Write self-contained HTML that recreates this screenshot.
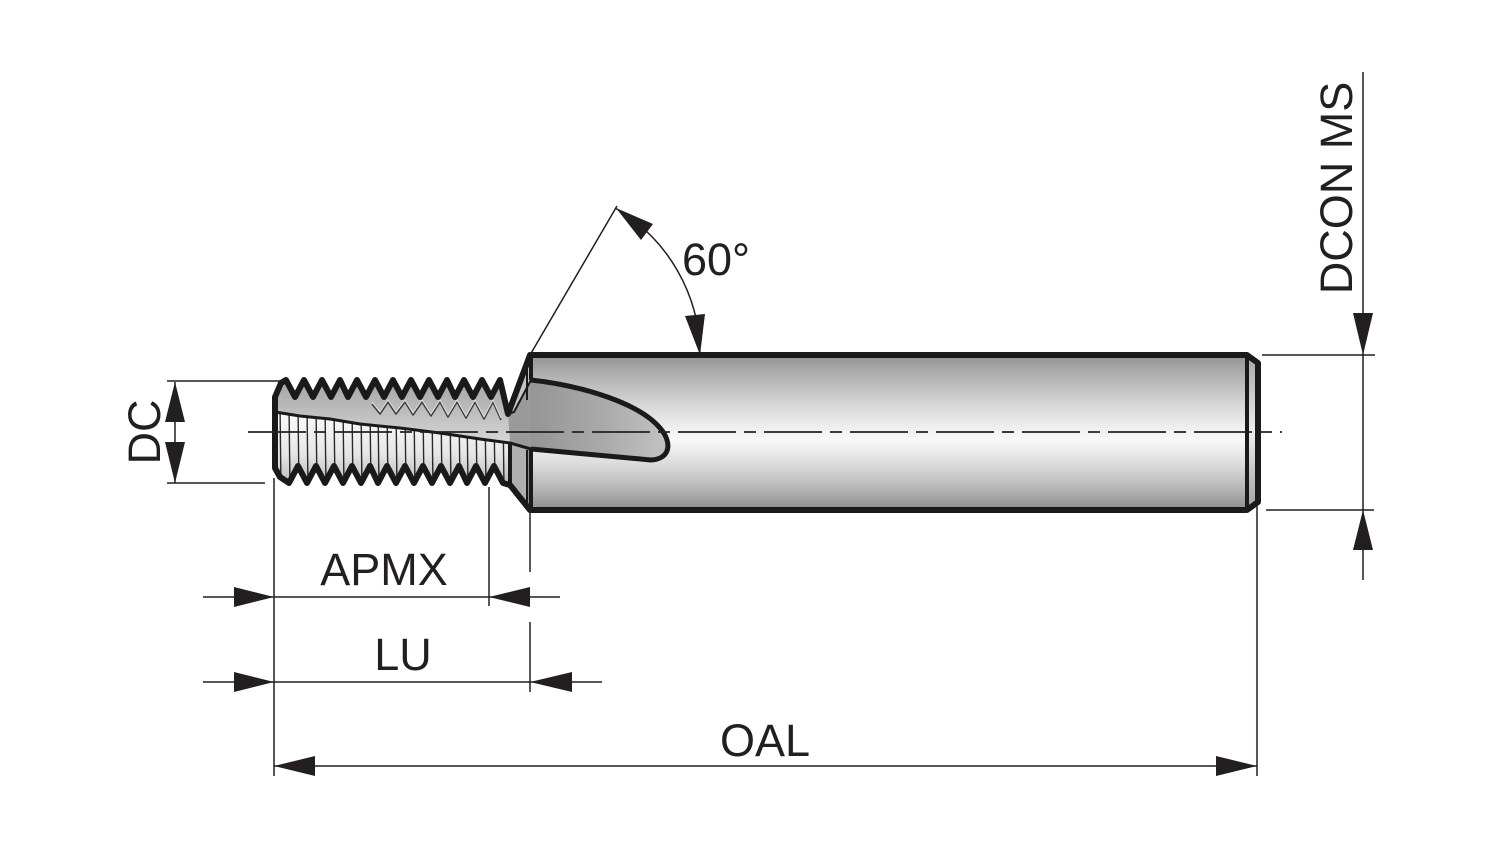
<!DOCTYPE html>
<html>
<head>
<meta charset="utf-8">
<style>
  html,body{margin:0;padding:0;background:#fff;}
  svg{display:block;}
  text{font-family:"Liberation Sans",Arial,sans-serif;fill:#231f20;}
</style>
</head>
<body>
<svg width="1500" height="849" viewBox="0 0 1500 849" xmlns="http://www.w3.org/2000/svg">
  <defs>
    <linearGradient id="shank" gradientUnits="userSpaceOnUse" x1="0" y1="355" x2="0" y2="510">
      <stop offset="0" stop-color="#929292"/>
      <stop offset="0.15" stop-color="#b4b4b4"/>
      <stop offset="0.32" stop-color="#d6d6d6"/>
      <stop offset="0.47" stop-color="#efefef"/>
      <stop offset="0.55" stop-color="#f8f8f8"/>
      <stop offset="0.70" stop-color="#dcdcdc"/>
      <stop offset="0.86" stop-color="#b6b6b6"/>
      <stop offset="1" stop-color="#8c8c8c"/>
    </linearGradient>
    <linearGradient id="band" gradientUnits="userSpaceOnUse" x1="0" y1="380" x2="0" y2="440">
      <stop offset="0" stop-color="#a4a4a4"/>
      <stop offset="1" stop-color="#d4d4d4"/>
    </linearGradient>
    <linearGradient id="nose" gradientUnits="userSpaceOnUse" x1="505" y1="0" x2="670" y2="0">
      <stop offset="0" stop-color="#8e8e8e"/>
      <stop offset="0.6" stop-color="#aaaaaa"/>
      <stop offset="1" stop-color="#c4c4c4"/>
    </linearGradient>
    <linearGradient id="stripebg" gradientUnits="userSpaceOnUse" x1="0" y1="412" x2="0" y2="482">
      <stop offset="0" stop-color="#fbfbfb"/>
      <stop offset="0.6" stop-color="#e6e6e6"/>
      <stop offset="1" stop-color="#bdbdbd"/>
    </linearGradient>
    <linearGradient id="cham" gradientUnits="userSpaceOnUse" x1="0" y1="355" x2="0" y2="510">
      <stop offset="0" stop-color="#a8a8a8"/>
      <stop offset="0.5" stop-color="#eeeeee"/>
      <stop offset="1" stop-color="#a0a0a0"/>
    </linearGradient>
    <clipPath id="stripeclip">
      <path d="M275,412 L300,416 L330,419 L360,424 L400,428 L440,433 L480,439 L510,443 L510,485 L503,483 L494,466 L485,483 L476,466 L467,483 L459,466 L450,483 L441,466 L432,483 L423,466 L414,483 L405,466 L396,483 L387,466 L378,483 L370,466 L361,483 L352,466 L343,483 L334,466 L325,483 L316,466 L307,483 L298,466 L289,483 L280,477 L275,468 Z"/>
    </clipPath>
  </defs>

  <!-- Tool body fill -->
  <path d="M275,397 L281,383 L286,380 L295,397 L304,380 L313,397 L322,380 L331,397 L340,380 L348,397 L357,380 L366,397 L375,380 L384,397 L393,380 L402,397 L411,380 L420,397 L429,380 L438,397 L447,380 L455,397 L464,380 L473,397 L482,380 L491,397 L500,380 L508,414 L530,355 L1247,355 L1258,363 L1258,502 L1247,510 L530,510 L510,485 L503,483 L494,466 L485,483 L476,466 L467,483 L459,466 L450,483 L441,466 L432,483 L423,466 L414,483 L405,466 L396,483 L387,466 L378,483 L370,466 L361,483 L352,466 L343,483 L334,466 L325,483 L316,466 L307,483 L298,466 L289,483 L280,477 L275,468 Z" fill="url(#shank)"/>

  <!-- thread band overlay (upper) -->
  <path d="M275,397 L281,383 L286,380 L295,397 L304,380 L313,397 L322,380 L331,397 L340,380 L348,397 L357,380 L366,397 L375,380 L384,397 L393,380 L402,397 L411,380 L420,397 L429,380 L438,397 L447,380 L455,397 L464,380 L473,397 L482,380 L491,397 L500,380 L508,414 L510,443 L480,439 L440,433 L400,428 L360,424 L330,419 L300,416 L275,412 Z" fill="url(#band)"/>

  <!-- secondary thread lines in band -->
  <polyline points="372,404 380,414 388,402 396,414 405,402 413,415 422,402 431,416 440,402 448,417 457,402 466,418 475,402 484,419 493,402 501,420" fill="none" stroke="#3a3a3a" stroke-width="1.6" stroke-linejoin="round"/>
  <polyline points="372,402 380,412 388,400 396,412 405,400 413,413 422,400 431,414 440,400 448,415 457,400 466,416 475,400 484,417 493,400 501,418" fill="none" stroke="#f0f0f0" stroke-width="1" opacity="0.8"/>

  <!-- chamfer end -->
  <path d="M1247,355 L1258,363 L1258,502 L1247,510 Z" fill="url(#cham)"/>

  <!-- flute nose -->
  <path d="M510,414 L531,380 C585,386 640,404 660,428 C673,443 670,459 651,460 L531,449 L510,443 Z" fill="url(#nose)"/>
  <polygon points="508,414 531,378 531,449 510,443" fill="#9a9a9a"/>

  <!-- neck top face -->
  <path d="M508,414 L530,356 L531,380 L514,412 Z" fill="#c4c4c4" stroke="#1a1a1a" stroke-width="2"/>
  <line x1="527" y1="366" x2="527" y2="400" stroke="#1a1a1a" stroke-width="2"/>

  <path d="M531,380 C585,386 640,404 660,428 C673,443 670,459 651,460 L531,449" fill="none" stroke="#1a1a1a" stroke-width="5" stroke-linejoin="round"/>

  <!-- striped flute face -->
  <g clip-path="url(#stripeclip)">
    <rect x="270" y="405" width="245" height="85" fill="url(#stripebg)"/>
    <g stroke="#2a2a2a" stroke-width="1.4">
      <line x1="280" y1="405" x2="281" y2="490"/>
      <line x1="289" y1="405" x2="290" y2="490"/>
      <line x1="298" y1="405" x2="299" y2="490"/>
      <line x1="307" y1="405" x2="308" y2="490"/>
      <line x1="316" y1="405" x2="317" y2="490"/>
      <line x1="325" y1="405" x2="326" y2="490"/>
      <line x1="334" y1="405" x2="335" y2="490"/>
      <line x1="343" y1="405" x2="344" y2="490"/>
      <line x1="352" y1="405" x2="353" y2="490"/>
      <line x1="361" y1="405" x2="362" y2="490"/>
      <line x1="370" y1="405" x2="371" y2="490"/>
      <line x1="378" y1="405" x2="379" y2="490"/>
      <line x1="387" y1="405" x2="388" y2="490"/>
      <line x1="396" y1="405" x2="397" y2="490"/>
      <line x1="405" y1="405" x2="406" y2="490"/>
      <line x1="414" y1="405" x2="415" y2="490"/>
      <line x1="423" y1="405" x2="424" y2="490"/>
      <line x1="432" y1="405" x2="433" y2="490"/>
      <line x1="441" y1="405" x2="442" y2="490"/>
      <line x1="450" y1="405" x2="451" y2="490"/>
      <line x1="459" y1="405" x2="460" y2="490"/>
      <line x1="467" y1="405" x2="468" y2="490"/>
      <line x1="476" y1="405" x2="477" y2="490"/>
      <line x1="485" y1="405" x2="486" y2="490"/>
      <line x1="494" y1="405" x2="495" y2="490"/>
      <line x1="503" y1="405" x2="504" y2="490"/>
    </g>
  </g>

  <!-- neck bottom face -->
  <path d="M510,443 L531,449 L531,510 L510,485 Z" fill="#b0b0b0"/>
  <path d="M527,450 L527,505 L531,510 L531,449 Z" fill="#8e8e8e"/>
  <line x1="527" y1="450" x2="527" y2="505" stroke="#1a1a1a" stroke-width="2"/>
  <line x1="510" y1="443" x2="510" y2="485" stroke="#1a1a1a" stroke-width="4"/>

  <!-- flute line -->
  <polyline points="275,412 300,416 330,419 360,424 400,428 440,433 480,439 510,443 531,449" fill="none" stroke="#1a1a1a" stroke-width="3" stroke-linejoin="round"/>

  <!-- outline stroke -->
  <path d="M275,397 L281,383 L286,380 L295,397 L304,380 L313,397 L322,380 L331,397 L340,380 L348,397 L357,380 L366,397 L375,380 L384,397 L393,380 L402,397 L411,380 L420,397 L429,380 L438,397 L447,380 L455,397 L464,380 L473,397 L482,380 L491,397 L500,380 L508,414 L530,355 L1247,355 L1258,363 L1258,502 L1247,510 L530,510 L510,485 L503,483 L494,466 L485,483 L476,466 L467,483 L459,466 L450,483 L441,466 L432,483 L423,466 L414,483 L405,466 L396,483 L387,466 L378,483 L370,466 L361,483 L352,466 L343,483 L334,466 L325,483 L316,466 L307,483 L298,466 L289,483 L280,477 L275,468 Z" fill="none" stroke="#1a1a1a" stroke-width="6" stroke-linejoin="round"/>
  <!-- shank inner edges -->
  <line x1="531" y1="355" x2="531" y2="380" stroke="#1a1a1a" stroke-width="4"/>
  <line x1="531" y1="449" x2="531" y2="510" stroke="#1a1a1a" stroke-width="4"/>
  <line x1="1247" y1="355" x2="1247" y2="510" stroke="#1a1a1a" stroke-width="4"/>

  <!-- centre line -->
  <line x1="248" y1="432" x2="1282" y2="432" stroke="#222" stroke-width="1.8" stroke-dasharray="58 8 12 8"/>

  <!-- ===== Dimensions ===== -->
  <g stroke="#231f20" stroke-width="1.5" fill="none">
    <line x1="167" y1="381" x2="283" y2="381"/>
    <line x1="167" y1="483" x2="265" y2="483"/>
    <line x1="175" y1="382" x2="175" y2="483"/>
    <line x1="274" y1="478" x2="274" y2="776"/>
    <line x1="489" y1="487" x2="489" y2="606"/>
    <line x1="530" y1="510" x2="530" y2="572"/>
    <line x1="530" y1="622" x2="530" y2="692"/>
    <line x1="1257" y1="505" x2="1257" y2="776"/>
    <line x1="203" y1="597" x2="560" y2="597"/>
    <line x1="203" y1="682" x2="602" y2="682"/>
    <line x1="274" y1="766" x2="1257" y2="766"/>
    <line x1="1363" y1="72" x2="1363" y2="580"/>
    <line x1="1262" y1="355" x2="1375" y2="355"/>
    <line x1="1266" y1="510" x2="1374" y2="510"/>
    <line x1="530" y1="355" x2="617" y2="206"/>
    <path d="M615,208 A170,170 0 0 1 700,355"/>
  </g>

  <g fill="#231f20">
    <polygon points="175,382 165,422 185,422"/>
    <polygon points="175,483 165,442 185,442"/>
    <polygon points="274,597 234,587 234,607"/>
    <polygon points="489,597 530,587 530,607"/>
    <polygon points="274,682 234,672 234,692"/>
    <polygon points="530,682 572,672 572,692"/>
    <polygon points="274,766 315,756 315,776"/>
    <polygon points="1257,766 1216,756 1216,776"/>
    <polygon points="1363,355 1353,313 1373,313"/>
    <polygon points="1363,510 1353,550 1373,550"/>
    <polygon points="616,208 641,240 653,224"/>
    <polygon points="700,355 705,314 685,316"/>
  </g>

  <!-- Labels -->
  <text x="682" y="275" font-size="45">60°</text>
  <text x="384" y="585" font-size="45" text-anchor="middle">APMX</text>
  <text x="403" y="670" font-size="45" text-anchor="middle">LU</text>
  <text x="765" y="756" font-size="45" text-anchor="middle">OAL</text>
  <text transform="translate(160,432) rotate(-90)" font-size="45" text-anchor="middle">DC</text>
  <text transform="translate(1352,188) rotate(-90)" font-size="45" text-anchor="middle">DCON MS</text>
</svg>
</body>
</html>
